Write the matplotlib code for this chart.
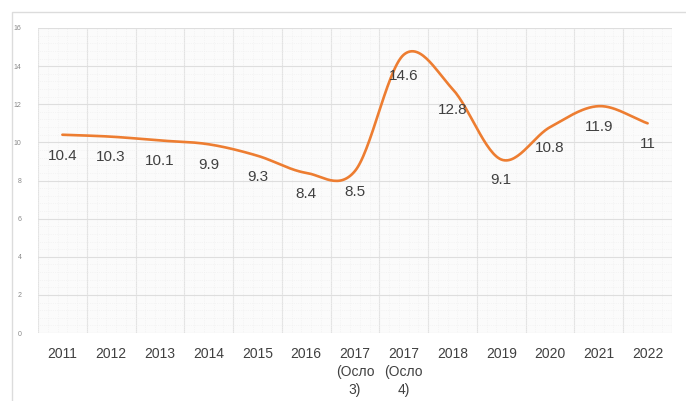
import numpy as np
import matplotlib
matplotlib.use("Agg")
import matplotlib.pyplot as plt
from matplotlib.patches import Rectangle
from matplotlib.ticker import MultipleLocator

categories = ["2011", "2012", "2013", "2014", "2015", "2016",
              "2017\n(Осло\n3)", "2017\n(Осло\n4)", "2018", "2019",
              "2020", "2021", "2022"]
values = [10.4, 10.3, 10.1, 9.9, 9.3, 8.4, 8.5, 14.6, 12.8, 9.1, 10.8, 11.9, 11]
value_labels = ["10.4", "10.3", "10.1", "9.9", "9.3", "8.4", "8.5",
                "14.6", "12.8", "9.1", "10.8", "11.9", "11"]
y_ticks = [0, 2, 4, 6, 8, 10, 12, 14, 16]

plt.rcParams["font.family"] = ["Liberation Sans", "DejaVu Sans"]


def catmull_rom(x, y, n=30):
    # smooth curve through the points, like a spreadsheet "smoothed line"
    x = np.asarray(x, float)
    y = np.asarray(y, float)
    px = np.concatenate([[2 * x[0] - x[1]], x, [2 * x[-1] - x[-2]]])
    py = np.concatenate([[2 * y[0] - y[1]], y, [2 * y[-1] - y[-2]]])
    xs, ys = [], []
    t = np.linspace(0, 1, n, endpoint=False)
    for i in range(1, len(px) - 2):
        for arr, out in ((px, xs), (py, ys)):
            p0, p1, p2, p3 = arr[i - 1], arr[i], arr[i + 1], arr[i + 2]
            out.extend(0.5 * ((2 * p1) + (-p0 + p2) * t
                              + (2 * p0 - 5 * p1 + 4 * p2 - p3) * t ** 2
                              + (-p0 + 3 * p1 - 3 * p2 + p3) * t ** 3))
    xs.append(x[-1])
    ys.append(y[-1])
    return np.array(xs), np.array(ys)


fig = plt.figure(figsize=(6.86, 4.01), dpi=100)
fig.patch.set_facecolor("white")
fig.patches.append(Rectangle((12 / 686, -0.01), 1.0, 1 - 12 / 401 + 0.01,
                             transform=fig.transFigure, fill=False,
                             edgecolor="#dcdcdc", linewidth=1.0))

ax = fig.add_axes([38 / 686, 1 - 333 / 401, (672 - 38) / 686, (333 - 28) / 401])
ax.set_facecolor("#fbfbfb")

n = len(categories)
xpos = np.arange(n)
sx, sy = catmull_rom(xpos, values)
ax.plot(sx, sy, color="#ED7D31", linewidth=1.9, solid_capstyle="round", zorder=3)

for xi, v, lab in zip(xpos, values, value_labels):
    ax.annotate(lab, (xi, v), xytext=(0, -15), textcoords="offset points",
                ha="center", va="center", fontsize=11, color="#404040", zorder=4)

ax.set_xlim(-0.5, n - 0.5)
ax.set_ylim(0, 16)
ax.set_yticks(y_ticks)
ax.yaxis.set_minor_locator(MultipleLocator(0.4))
ax.set_xticks(xpos)
ax.set_xticklabels(categories, fontsize=10, color="#404040", linespacing=1.35)
ax.tick_params(axis="y", labelsize=5, labelcolor="#888888", length=0, pad=12)
ax.tick_params(axis="x", length=0, pad=10)
ax.tick_params(which="minor", length=0)

# horizontal grid: major every 2, faint minor lines
ax.grid(True, axis="y", which="major", color="#dedede", linewidth=0.8)
ax.grid(True, axis="y", which="minor", color="#eeeeee", linewidth=0.5, linestyle=":")
# vertical grid at category boundaries with faint minor lines in between
for b in np.arange(-0.5, n, 1.0):
    ax.axvline(b, color="#e2e2e2", linewidth=0.8, zorder=0)
for m in np.arange(-0.5, n - 0.5, 0.2):
    ax.axvline(m, color="#efefef", linewidth=0.5, linestyle=":", zorder=0)
ax.set_axisbelow(True)
for s in ax.spines.values():
    s.set_visible(False)

fig.savefig("out.png", dpi=100)
